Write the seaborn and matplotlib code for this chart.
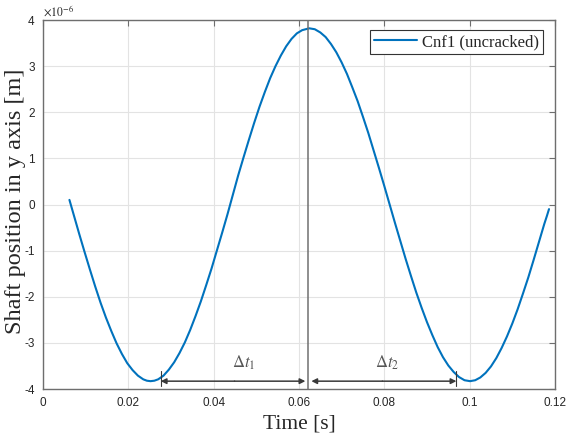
import matplotlib
matplotlib.use("Agg")
import matplotlib.pyplot as plt
import matplotlib.ticker as mticker
import numpy as np
import pandas as pd
import seaborn as sns

# Shaft vertical position over time (values in units of 1e-6 m)
time_s = [0.0062, 0.00735, 0.0085, 0.00975, 0.0110, 0.01225, 0.0135, 0.01475,
          0.0160, 0.01725, 0.0185, 0.01975, 0.0210, 0.02225, 0.0235, 0.02435,
          0.0252, 0.0261, 0.0270, 0.02825, 0.0295, 0.03075, 0.0320, 0.03325,
          0.0345, 0.03575, 0.0370, 0.03825, 0.0395, 0.04075, 0.0420, 0.04325,
          0.0445, 0.04575, 0.0470, 0.04825, 0.0495, 0.05075, 0.0520, 0.05325,
          0.0545, 0.05575, 0.0570, 0.05825, 0.0595, 0.06075, 0.0624, 0.0637,
          0.0650, 0.06625, 0.0675, 0.06875, 0.0700, 0.07125, 0.0725, 0.07375,
          0.0750, 0.07625, 0.0775, 0.07875, 0.0800, 0.08125, 0.0825, 0.08375,
          0.0850, 0.08625, 0.0875, 0.08875, 0.0900, 0.09125, 0.0925, 0.09375,
          0.0950, 0.09625, 0.0975, 0.0988, 0.1001, 0.1013, 0.1025, 0.10375,
          0.1050, 0.10625, 0.1075, 0.10875, 0.1100, 0.11125, 0.1125, 0.11375,
          0.1150, 0.11625, 0.1175, 0.1181, 0.1186]
pos_um = [0.10, -0.27, -0.64, -1.03, -1.41, -1.78, -2.13, -2.45,
          -2.74, -3.01, -3.24, -3.44, -3.59, -3.71, -3.79, -3.82,
          -3.83, -3.82, -3.79, -3.71, -3.58, -3.42, -3.22, -2.99,
          -2.72, -2.42, -2.10, -1.75, -1.39, -1.00, -0.61, -0.21,
          0.21, 0.63, 1.02, 1.40, 1.77, 2.12, 2.44, 2.74,
          3.00, 3.23, 3.43, 3.59, 3.71, 3.78, 3.82, 3.80,
          3.73, 3.63, 3.48, 3.30, 3.08, 2.83, 2.54, 2.24,
          1.90, 1.55, 1.17, 0.79, 0.40, 0.00, -0.40, -0.79,
          -1.18, -1.55, -1.91, -2.24, -2.55, -2.83, -3.09, -3.31,
          -3.49, -3.63, -3.74, -3.81, -3.83, -3.81, -3.75, -3.65,
          -3.51, -3.33, -3.11, -2.86, -2.58, -2.27, -1.93, -1.58,
          -1.20, -0.81, -0.42, -0.25, -0.10]
series_label = "Cnf1 (uncracked)"

# Time-interval markers
peak_time = 0.0622
dt1_start = 0.0276
dt2_end = 0.0969
arrow_level = -3.83
x_ticks = [0, 0.02, 0.04, 0.06, 0.08, 0.1, 0.12]
y_ticks = [-4, -3, -2, -1, 0, 1, 2, 3, 4]

sns.set_style("whitegrid")
plt.rcParams["font.family"] = ["Liberation Sans", "DejaVu Sans"]
plt.rcParams["axes.unicode_minus"] = False
plt.rcParams["mathtext.fontset"] = "stix"

df = pd.DataFrame({"t": time_s, "y": np.array(pos_um) * 1e-6})

fig = plt.figure(figsize=(5.67, 4.33), dpi=100)
ax = fig.add_axes([0.0758, 0.1016, 0.9030, 0.8522])

blue = "#0072BD"
sns.lineplot(data=df, x="t", y="y", ax=ax, color=blue, linewidth=1.5,
             label=series_label)

ax.set_xlim(0, 0.12)
ax.set_ylim(-4e-6, 4e-6)
ax.set_xticks(x_ticks)
ax.set_yticks([v * 1e-6 for v in y_ticks])
ax.xaxis.set_major_formatter(mticker.FuncFormatter(lambda v, p: f"{v:g}"))
ax.yaxis.set_major_formatter(mticker.FuncFormatter(lambda v, p: f"{v * 1e6:g}"))
ax.text(0.0, 1.004, r"$\times10^{-6}$", transform=ax.transAxes, fontsize=8.5,
        color="#262626", ha="left", va="bottom", family="Liberation Sans")

ax.grid(True, color="#e3e3e3", linewidth=0.8)
for s in ax.spines.values():
    s.set_visible(True)
    s.set_color("#6e6e6e")
    s.set_linewidth(1.0)
ax.tick_params(direction="in", length=4, width=0.8, color="#6e6e6e",
               labelsize=8.5, labelcolor="#262626", top=True, right=True,
               pad=6)

serif = ["Liberation Serif", "DejaVu Serif"]
ax.set_xlabel("Time [s]", fontsize=15.5, family=serif)
ax.set_ylabel("Shaft position in y axis [m]", fontsize=17.5, family=serif)
ax.xaxis.set_label_coords(0.5, -0.068)
ax.yaxis.set_label_coords(-0.034, 0.51)

# vertical line at the peak
ax.axvline(peak_time, color="#707070", linewidth=1.1, zorder=3)

# interval arrows
arrow_kw = dict(arrowstyle="-|>", color="#3a3a3a", lw=1.1,
                mutation_scale=8, shrinkA=0, shrinkB=0)
y_a = arrow_level * 1e-6
mid1 = (dt1_start + peak_time) / 2
ax.annotate("", xy=(dt1_start, y_a), xytext=(mid1, y_a), arrowprops=arrow_kw)
ax.annotate("", xy=(peak_time - 0.0007, y_a), xytext=(mid1, y_a), arrowprops=arrow_kw)
mid2 = (peak_time + dt2_end) / 2
ax.annotate("", xy=(peak_time + 0.0007, y_a), xytext=(mid2, y_a), arrowprops=arrow_kw)
ax.annotate("", xy=(dt2_end, y_a), xytext=(mid2, y_a), arrowprops=arrow_kw)
for xb in (dt1_start, dt2_end):
    ax.plot([xb, xb], [-3.62e-6, -3.93e-6], color="#3a3a3a", lw=0.8)

ax.text(mid1 + 0.0022, -3.63e-6, r"$\mathit{\Delta t_1}$", fontsize=12,
        color="#555555", ha="center", va="bottom")
ax.text(mid2 + 0.0011, -3.63e-6, r"$\mathit{\Delta t_2}$", fontsize=12,
        color="#555555", ha="center", va="bottom")

leg = ax.legend(loc="upper right", bbox_to_anchor=(0.977, 0.973),
                borderaxespad=0, fancybox=False, framealpha=1,
                edgecolor="#333333", prop={"family": serif, "size": 12},
                handlelength=2.6, handletextpad=0.3, borderpad=0.25)
leg.get_frame().set_linewidth(0.8)

fig.savefig("out.png", dpi=100, facecolor="white")
